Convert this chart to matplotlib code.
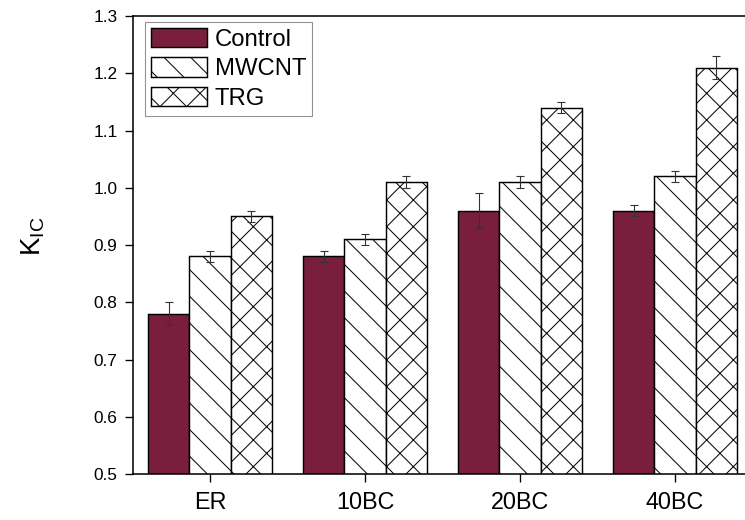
import numpy as np
import matplotlib.pyplot as plt

groups = ['ER', '10BC', '20BC', '40BC']
series = ['Control', 'MWCNT', 'TRG']
control = [0.78, 0.88, 0.96, 0.96]
control_err = [0.02, 0.01, 0.03, 0.01]
mwcnt = [0.88, 0.91, 1.01, 1.02]
mwcnt_err = [0.01, 0.01, 0.01, 0.01]
trg = [0.95, 1.01, 1.14, 1.21]
trg_err = [0.01, 0.01, 0.01, 0.02]

plt.rcParams['font.family'] = ['Liberation Sans', 'DejaVu Sans']
plt.rcParams['hatch.linewidth'] = 0.9
plt.rcParams['hatch.color'] = '#222222'

fig = plt.figure(figsize=(745 / 80, 520 / 80), dpi=80)
ax = fig.add_axes([133 / 745, 46 / 520, 619.5 / 745, 458 / 520])

x = np.arange(len(groups))
w = 0.267
styles = [
    dict(color='#7a1e3e', hatch=None),
    dict(color='white', hatch='\\'),
    dict(color='white', hatch='x'),
]
data = [(control, control_err), (mwcnt, mwcnt_err), (trg, trg_err)]

for i, ((vals, errs), st, name) in enumerate(zip(data, styles, series)):
    ax.bar(x + (i - 1) * w, vals, w, color=st['color'], hatch=st['hatch'],
           edgecolor='black', linewidth=1.3, label=name, zorder=2)
    ax.errorbar(x + (i - 1) * w, vals, yerr=errs, fmt='none', ecolor='#333333',
                elinewidth=1.0, capsize=4, capthick=1.0, zorder=3)

ax.set_xlim(-0.497, 3.5)
ax.set_ylim(0.5, 1.3)
ax.set_yticks(np.arange(0.5, 1.31, 0.1))
ax.set_yticklabels([f'{v:.1f}' for v in np.arange(0.5, 1.31, 0.1)])
ax.set_xticks(x)
ax.set_xticklabels(groups)

ax.tick_params(axis='y', direction='out', length=7, width=1.2, labelsize=15.5, pad=7)
ax.tick_params(axis='x', direction='out', length=7, width=1.2, labelsize=21, pad=8)
for s in ['left', 'bottom', 'top', 'right']:
    ax.spines[s].set_linewidth(1.4)

ax.set_ylabel(r'$\mathregular{K_{IC}}$', fontsize=25)
ax.yaxis.set_label_coords(-0.139, 0.52)

leg = ax.legend(loc='upper left', bbox_to_anchor=(145 / 745, 1 - 22 / 520),
                bbox_transform=fig.transFigure, borderaxespad=0, fontsize=21.5,
                frameon=True, fancybox=False, handlelength=2.34, handleheight=0.88,
                labelspacing=0.27, borderpad=0.25, handletextpad=0.33)
leg.get_frame().set_edgecolor('#777777')
leg.get_frame().set_linewidth(1.0)

fig.savefig('out.png', dpi=80)
